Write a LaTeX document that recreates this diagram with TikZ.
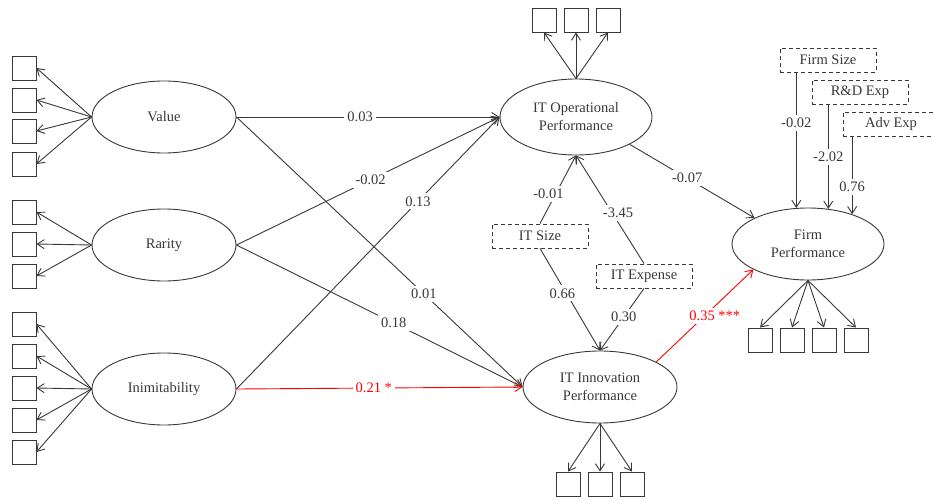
\documentclass[tikz,border=0pt]{standalone}
\usepackage{fontspec}
\setmainfont{Liberation Serif}
\usetikzlibrary{arrows.meta,shapes.geometric}

\begin{document}
\begin{tikzpicture}[x=1pt, y=-1pt, color=black!78, line width=0.9pt,
  >={Straight Barb[length=7pt,width=9pt]},
  every node/.style={font=\fontsize{14.5}{18}\selectfont},
  latent/.style={ellipse, draw, minimum width=144pt, minimum height=72pt, inner sep=0pt, align=center},
  ind/.style={rectangle, draw, minimum size=24pt, inner sep=0pt},
  ctrl/.style={rectangle, draw, dash pattern=on 4pt off 3pt, minimum width=96pt, minimum height=24pt, inner sep=0pt},
  lbl/.style={fill=white, inner sep=3pt}]
  \useasboundingbox (0,0) rectangle (933,500);

  % latent constructs
  \node [latent] (value) at (164,117) {Value};
  \node [latent] (rarity) at (164,245) {Rarity};
  \node [latent] (inimit) at (164,389) {Inimitability};
  \node [latent, minimum width=152pt, minimum height=76pt] (itop) at (576,117) {IT Operational\\Performance};
  \node [latent, minimum width=154pt] (itin) at (600,387) {IT Innovation\\Performance};
  \node [latent, minimum width=152pt] (firm) at (808,244) {Firm\\Performance};

  % controls
  \node [ctrl] (itsize) at (540,236) {IT Size};
  \node [ctrl] (itexp) at (644,276) {IT Expense};
  \node [ctrl] (fsize) at (828,60) {Firm Size};
  \node [ctrl] (rdexp) at (860,92) {R\&D Exp};
  \node [ctrl] (advexp) at (891,124) {Adv Exp};

  % indicators
  \node [ind] (v_1) at (24,68) {};
  \node [ind] (v_2) at (24,100) {};
  \node [ind] (v_3) at (24,131) {};
  \node [ind] (v_4) at (24,164) {};
  \node [ind] (r_1) at (24,212) {};
  \node [ind] (r_2) at (24,244) {};
  \node [ind] (r_3) at (24,276) {};
  \node [ind] (i_1) at (24,324) {};
  \node [ind] (i_2) at (24,356) {};
  \node [ind] (i_3) at (24,388) {};
  \node [ind] (i_4) at (24,420) {};
  \node [ind] (i_5) at (24,452) {};
  \node [ind] (o_1) at (544,20) {};
  \node [ind] (o_2) at (576,20) {};
  \node [ind] (o_3) at (608,20) {};
  \node [ind] (n_1) at (568,484) {};
  \node [ind] (n_2) at (600,484) {};
  \node [ind] (n_3) at (632,484) {};
  \node [ind] (f_1) at (760,340) {};
  \node [ind] (f_2) at (792,340) {};
  \node [ind] (f_3) at (824,340) {};
  \node [ind] (f_4) at (856,340) {};

  \path[->]
    (value.west) edge (v_1.east)
    (value.west) edge (v_2.east)
    (value.west) edge (v_3.east)
    (value.west) edge (v_4.east)
    (rarity.west) edge (r_1.east)
    (rarity.west) edge (r_2.east)
    (rarity.west) edge (r_3.east)
    (inimit.west) edge (i_1.east)
    (inimit.west) edge (i_2.east)
    (inimit.west) edge (i_3.east)
    (inimit.west) edge (i_4.east)
    (inimit.west) edge (i_5.east)
    (itop.north) edge (o_1.south)
    (itop.north) edge (o_2.south)
    (itop.north) edge (o_3.south)
    (itin.south) edge (n_1.north)
    (itin.south) edge (n_2.north)
    (itin.south) edge (n_3.north)
    (firm.south) edge (f_1.north)
    (firm.south) edge (f_2.north)
    (firm.south) edge (f_3.north)
    (firm.south) edge (f_4.north);

  % structural paths
  \path[->]
    (value.east) edge node [lbl, pos=0.47] {0.03} (itop.west)
    (value.east) edge node [lbl, pos=0.655] {0.01} (itin.west)
    (rarity.east) edge node [lbl, pos=0.51] {-0.02} (itop.west)
    (rarity.east) edge node [lbl, pos=0.55] {0.18} (itin.west)
    (inimit.east) edge node [lbl, pos=0.69] {0.13} (itop.west)
    (inimit.east) edge [red] node [lbl, pos=0.48, text=red] {0.21 *} (itin.west)
    (itop.-27) edge node [lbl, pos=0.46] {-0.07} (firm.154)
    (itin.24) edge [red] node [lbl, pos=0.5, xshift=10pt, text=red] {0.35 ***} (firm.205)
    (itsize.north) edge node [lbl, pos=0.43, xshift=-7pt] {-0.01} (itop.south)
    (itexp.north) edge node [lbl, pos=0.47, xshift=6pt] {-3.45} (itop.south)
    (itsize.south) edge node [lbl, pos=0.44, xshift=-4pt] {0.66} (itin.north)
    (itexp.south) edge node [lbl, pos=0.46] {0.30} (itin.north)
    (fsize.south -| firm.108) edge node [lbl, pos=0.375] {-0.02} (firm.108)
    (rdexp.south -| firm.60) edge node [lbl, pos=0.5] {-2.02} (firm.60)
    (advexp.south -| firm.34) edge node [lbl, pos=0.65] {0.76} (firm.34);
\end{tikzpicture}
\end{document}
